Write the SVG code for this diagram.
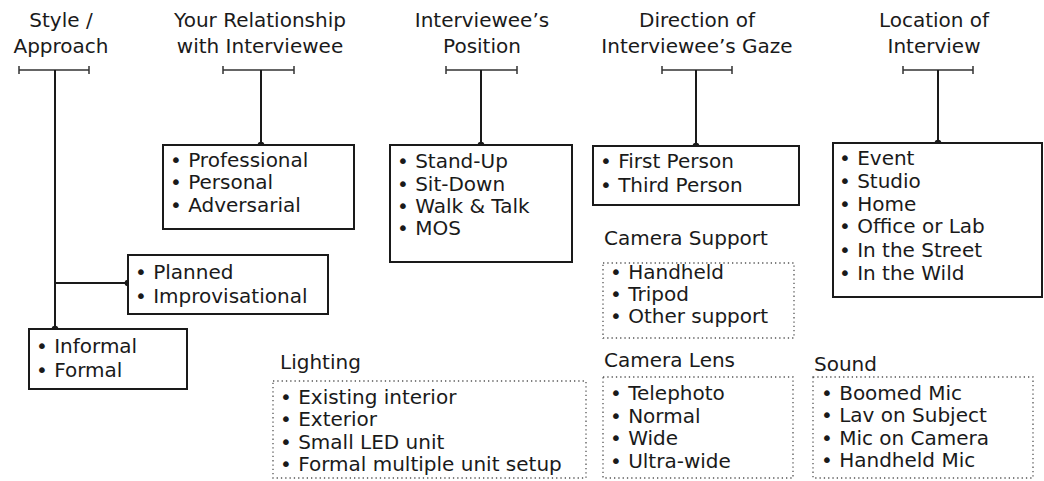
<svg xmlns="http://www.w3.org/2000/svg" width="1044" height="481" viewBox="0 0 1044 481">
<style>
text{font-family:"DejaVu Sans","Noto Sans","Liberation Sans",sans-serif;font-size:20px;fill:#1a1a1a}
.t{text-anchor:middle}
.box{fill:#fff;stroke:#1a1a1a;stroke-width:2}
.dot{fill:none;stroke:#555;stroke-width:1.3;stroke-dasharray:1.3 3}
.ln{stroke:#1a1a1a;stroke-width:2;fill:none}
.bar{stroke:#333;stroke-width:1.5;fill:none}
.pt{fill:#1a1a1a}
</style>
<rect width="1044" height="481" fill="#fff"/>
<g id="connectors">
<path class="bar" d="M19 70H89M19 66V74M89 66V74"/>
<path class="ln" d="M55 70V329M55 283H128"/>
<path class="bar" d="M223 70H294M223 66V74M294 66V74"/>
<path class="ln" d="M261 70V145"/>
<path class="bar" d="M446 70H517M446 66V74M517 66V74"/>
<path class="ln" d="M481 70V145"/>
<path class="bar" d="M662 70H732M662 66V74M732 66V74"/>
<path class="ln" d="M696 70V146"/>
<path class="bar" d="M903 70H973M903 66V74M973 66V74"/>
<path class="ln" d="M938 70V143"/>
<circle class="pt" cx="55" cy="329" r="3.3"/>
<circle class="pt" cx="128" cy="283" r="3.3"/>
<circle class="pt" cx="261" cy="145" r="3.3"/>
<circle class="pt" cx="481" cy="145" r="3.3"/>
<circle class="pt" cx="696" cy="146" r="3.3"/>
<circle class="pt" cx="938" cy="143" r="3.3"/>
</g>
<g id="style-approach">
<text class="t" x="61" y="27">Style /</text>
<text class="t" x="61" y="53">Approach</text>
</g>
<g id="relationship">
<text class="t" x="260" y="27">Your Relationship</text>
<text class="t" x="260" y="53">with Interviewee</text>
</g>
<g id="position">
<text class="t" x="482" y="27">Interviewee’s</text>
<text class="t" x="482" y="53">Position</text>
</g>
<g id="gaze">
<text class="t" x="697" y="27">Direction of</text>
<text class="t" x="697" y="53">Interviewee’s Gaze</text>
</g>
<g id="location">
<text class="t" x="934" y="27">Location of</text>
<text class="t" x="934" y="53">Interview</text>
</g>
<g id="relationship-box">
<rect class="box" x="163" y="145" width="191" height="84"/>
<text x="170" y="167">• Professional</text>
<text x="170" y="189">• Personal</text>
<text x="170" y="212">• Adversarial</text>
</g>
<g id="position-box">
<rect class="box" x="390" y="145" width="182" height="117"/>
<text x="397" y="168">• Stand-Up</text>
<text x="397" y="191">• Sit-Down</text>
<text x="397" y="213">• Walk &amp; Talk</text>
<text x="397" y="235">• MOS</text>
</g>
<g id="gaze-box">
<rect class="box" x="593" y="146" width="206" height="59"/>
<text x="600" y="168">• First Person</text>
<text x="600" y="192">• Third Person</text>
</g>
<g id="location-box">
<rect class="box" x="833" y="143" width="209" height="154"/>
<text x="839" y="165">• Event</text>
<text x="839" y="188">• Studio</text>
<text x="839" y="211">• Home</text>
<text x="839" y="233">• Office or Lab</text>
<text x="839" y="257">• In the Street</text>
<text x="839" y="280">• In the Wild</text>
</g>
<g id="planned-box">
<rect class="box" x="128" y="255" width="200" height="59"/>
<text x="135" y="279">• Planned</text>
<text x="135" y="303">• Improvisational</text>
</g>
<g id="informal-box">
<rect class="box" x="29" y="329" width="158" height="60"/>
<text x="36" y="353">• Informal</text>
<text x="36" y="377">• Formal</text>
</g>
<g id="camera-support">
<text x="604" y="245">Camera Support</text>
<rect class="dot" x="603" y="263" width="191" height="75"/>
<text x="610" y="279">• Handheld</text>
<text x="610" y="301">• Tripod</text>
<text x="610" y="323">• Other support</text>
</g>
<g id="lighting">
<text x="280" y="369">Lighting</text>
<rect class="dot" x="273" y="381" width="313" height="97"/>
<text x="280" y="404">• Existing interior</text>
<text x="280" y="426">• Exterior</text>
<text x="280" y="449">• Small LED unit</text>
<text x="280" y="471">• Formal multiple unit setup</text>
</g>
<g id="camera-lens">
<text x="604" y="367">Camera Lens</text>
<rect class="dot" x="603" y="377" width="190" height="101"/>
<text x="610" y="400">• Telephoto</text>
<text x="610" y="423">• Normal</text>
<text x="610" y="445">• Wide</text>
<text x="610" y="468">• Ultra-wide</text>
</g>
<g id="sound">
<text x="814" y="371">Sound</text>
<rect class="dot" x="813" y="377" width="220" height="101"/>
<text x="821" y="400">• Boomed Mic</text>
<text x="821" y="422">• Lav on Subject</text>
<text x="821" y="445">• Mic on Camera</text>
<text x="821" y="467">• Handheld Mic</text>
</g>
</svg>
